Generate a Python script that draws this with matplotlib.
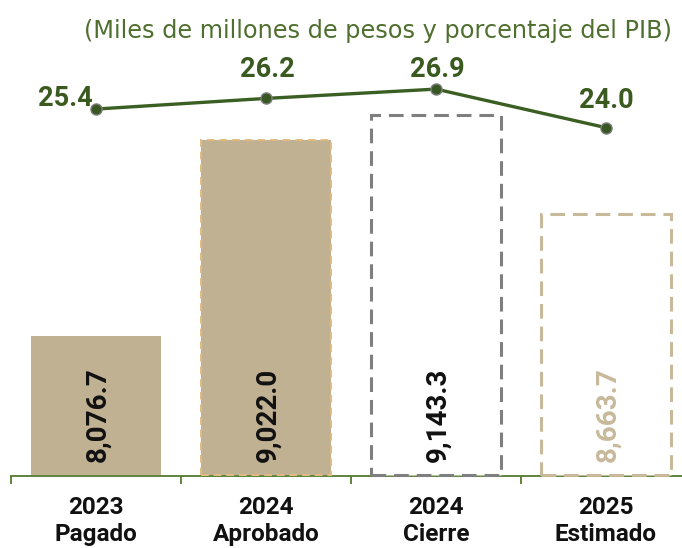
import matplotlib
matplotlib.use('Agg')
import matplotlib.pyplot as plt

# ---------------- data ----------------
categories = ['2023\nPagado', '2024\nAprobado', '2024\nCierre', '2025\nEstimado']
amounts = [8076.7, 9022.0, 9143.3, 8663.7]          # miles de millones de pesos
pib_pct = [25.4, 26.2, 26.9, 24.0]                  # porcentaje del PIB
title = '(Miles de millones de pesos y porcentaje del PIB)'

# ---------------- style ----------------
W, H = 682, 548
AX_LEFT, AX_RIGHT, AX_BOTTOM, AX_TOP = 11, 691, 475.5, 50   # pixels (from top for y)
BASE = 7400
YMAX = 9460
Y2 = (-2.15, 29.84)

TAN = '#C0B193'
GREEN_LINE = '#3B5E22'
GREEN_TEXT = '#3A5A20'
GREEN_AXIS = '#55792F'
TITLE_COLOR = '#4F6F2F'

bar_styles = [
    dict(facecolor=TAN, edgecolor='none', linewidth=0, linestyle='-'),
    dict(facecolor=TAN, edgecolor='#E2BB82', linewidth=1.4, linestyle=(0, (4, 2.5))),
    dict(facecolor='white', edgecolor='#7F7F7F', linewidth=2.2, linestyle=(0, (4.8, 2.6))),
    dict(facecolor='white', edgecolor='#C8B99B', linewidth=2.2, linestyle=(0, (4.8, 2.6))),
]
bar_label_colors = ['#111111', '#111111', '#111111', '#C8B99B']
pct_label_offsets = [(-3, 3, 'right'), (1, 21, 'center'), (1, 12, 'center'), (0, 20, 'center')]

NUM_FONT = ['Roboto', 'DejaVu Sans']

fig = plt.figure(figsize=(W / 100, H / 100), dpi=100)
ax = fig.add_axes([AX_LEFT / W, (H - AX_BOTTOM) / H,
                   (AX_RIGHT - AX_LEFT) / W, (AX_BOTTOM - AX_TOP) / H])

xpos = list(range(len(categories)))
bars = ax.bar(xpos, [a - BASE for a in amounts], bottom=BASE, width=0.77)
for b, st in zip(bars, bar_styles):
    b.set_facecolor(st['facecolor'])
    b.set_edgecolor(st['edgecolor'])
    b.set_linewidth(st['linewidth'])
    b.set_linestyle(st['linestyle'])
    b.set_clip_on(False)
    b.set_zorder(3)

ax.set_xlim(-0.5, len(categories) - 0.5)
ax.set_ylim(BASE, YMAX)

for s in ['top', 'left', 'right']:
    ax.spines[s].set_visible(False)
ax.spines['bottom'].set_color(GREEN_AXIS)
ax.spines['bottom'].set_linewidth(1.3)
ax.spines['bottom'].set_zorder(2)
ax.set_yticks([])
ax.set_xticks(xpos)
ax.set_xticklabels(categories, fontsize=17.5, fontweight='bold', family=NUM_FONT,
                   color='#111111', linespacing=1.22)
ax.set_xticks([p - 0.5 for p in xpos] + [xpos[-1] + 0.5], minor=True)
ax.tick_params(axis='x', which='major', length=0, pad=15)
ax.tick_params(axis='x', which='minor', length=6, width=1.3, color=GREEN_AXIS, direction='out')

# bar value labels (rotated, anchored at the base)
for i, v in enumerate(amounts):
    ax.annotate(f'{v:,.1f}', (xpos[i], BASE), xytext=(2, 13), textcoords='offset pixels',
                rotation=90, ha='center', va='bottom', fontsize=20, fontweight='bold',
                family=NUM_FONT, color=bar_label_colors[i], zorder=5, annotation_clip=False)

# line on secondary axis
ax2 = ax.twinx()
ax2.set_ylim(*Y2)
ax2.plot(xpos, pib_pct, color=GREEN_LINE, linewidth=2.4, marker='o', markersize=8,
         markerfacecolor='#385722', markeredgecolor='#7F7F7F', markeredgewidth=1.0,
         clip_on=False, zorder=4)
for s in ax2.spines.values():
    s.set_visible(False)
ax2.set_yticks([])
for i, v in enumerate(pib_pct):
    dx, dy, ha = pct_label_offsets[i]
    ax2.annotate(f'{v:.1f}', (xpos[i], v), xytext=(dx, dy), textcoords='offset pixels',
                 ha=ha, va='baseline', fontsize=19.5, fontweight='bold', family=NUM_FONT,
                 color=GREEN_TEXT, annotation_clip=False)

fig.text(672 / W, 1 - 38 / H, title, ha='right', va='baseline', fontsize=17.3,
         family='DejaVu Sans', color=TITLE_COLOR)

fig.savefig('out.png', dpi=100)
